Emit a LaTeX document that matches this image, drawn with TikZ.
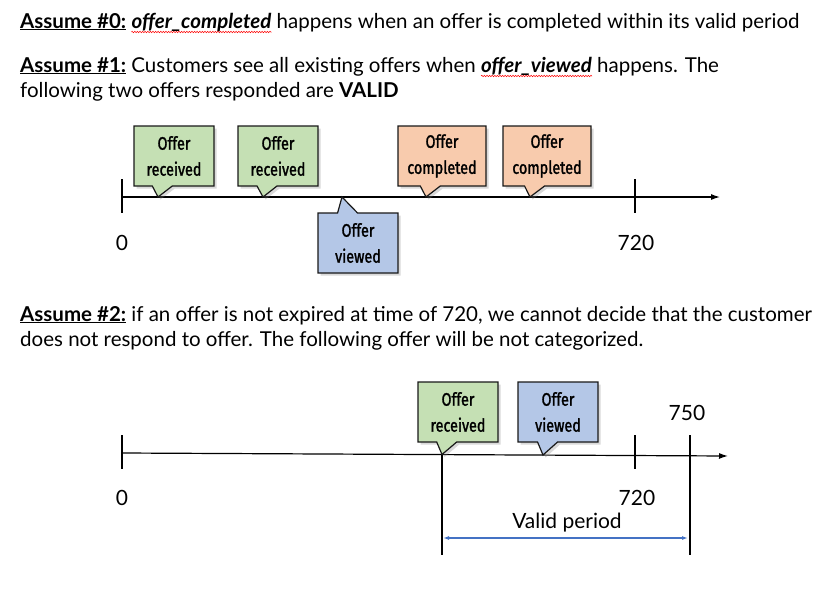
\documentclass[tikz,border=0pt]{standalone}
\usepackage{fontspec}
\setmainfont{Lato}
\newfontfamily\calloutfont[FakeStretch=0.8,FakeBold=1.5]{Fira Sans}
\usetikzlibrary{arrows.meta}
\usetikzlibrary{shapes.callouts}
\usetikzlibrary{shadows}
\usetikzlibrary{decorations.pathmorphing}

\definecolor{recvgreen}{HTML}{C5E0B4}
\definecolor{compsalmon}{HTML}{F8CBAD}
\definecolor{viewblue}{HTML}{B4C7E7}
\definecolor{spanblue}{HTML}{4472C4}

\begin{document}
\begin{tikzpicture}[x=1pt,y=-1pt,
    event/.style={rectangle callout, draw=black!90, line width=1.2pt, minimum width=80pt,
        minimum height=60pt, inner sep=2pt, align=center, callout pointer width=20pt,
        font=\calloutfont\fontsize{18}{26}\selectfont,
        drop shadow={shadow xshift=2.5pt,shadow yshift=-2.5pt,opacity=0.3}},
    headline/.style={anchor=base west, inner sep=0pt, font=\fontsize{20.5}{25}\selectfont},
    spellmark/.style={red, line width=0.5pt, decorate, decoration={snake, amplitude=0.7pt, segment length=2.6pt}},
    timeaxis/.style={line width=1.2pt,-{Latex[length=9pt,width=6pt]}},
    tickmark/.style={line width=1.5pt},
    ticklabel/.style={inner sep=0pt, font=\fontsize{21}{24}\selectfont}]
    \useasboundingbox (0,0) rectangle (838,589);

    % assumptions
    \node[headline] (hzero) at (20,28) {\underline{\textbf{Assume \#0:}}};
    \node[headline, xshift=5pt] (hzerow) at (hzero.base east) {\textbf{\textit{offer\_completed}}};
    \node[headline, xshift=5pt] (hzeroc) at (hzerow.base east) {happens when an offer is completed within its valid period};
    \node[headline] (hone) at (20,72) {\underline{\textbf{Assume \#1:}} Customers see all existing offers when};
    \node[headline, xshift=5pt] (honew) at (hone.base east) {\textbf{\textit{offer\_viewed}}};
    \node[headline, xshift=5pt] (honec) at (honew.base east) {happens. The};
    \node[headline] (honeb) at (20,97) {following two offers responded are \textbf{VALID}};
    \node[headline] (htwo) at (20,321) {\underline{\textbf{Assume \#2:}} if an offer is not expired at time of 720, we cannot decide that the customer};
    \node[headline] (htwob) at (20,346) {does not respond to offer. The following offer will be not categorized.};
    \draw[spellmark] ([yshift=-4pt]hzerow.base west) -- ([yshift=-4pt]hzerow.base east);
    \draw[spellmark] ([yshift=-4pt]honew.base west) -- ([yshift=-4pt]honew.base east);

    % first time line
    \coordinate (ostart) at (122,197);
    \coordinate (oend) at (720,197);
    \draw[timeaxis] (ostart) -- (oend);
    \draw[tickmark] (122,179) -- (122,213);
    \draw[tickmark] (635,179) -- (635,213);
    \node[ticklabel] (zeroa) at (122,243) {0};
    \node[ticklabel] (sevena) at (636,243) {720};

    \node[event, fill=recvgreen, callout absolute pointer={(158,197)}] (recva) at (174,156) {Offer\\received};
    \node[event, fill=recvgreen, callout absolute pointer={(263,197)}] (recvb) at (278,156) {Offer\\received};
    \node[event, fill=viewblue, callout absolute pointer={(342,197)}] (viewa) at (358,243) {Offer\\viewed};
    \node[event, fill=compsalmon, minimum width=88pt, callout absolute pointer={(426,197)}] (compa) at (442,156) {Offer\\completed};
    \node[event, fill=compsalmon, minimum width=88pt, callout absolute pointer={(530,197)}] (compb) at (547,156) {Offer\\completed};

    % second time line
    \coordinate (tstart) at (122,453);
    \coordinate (tend) at (728,456);
    \draw[timeaxis] (tstart) -- (tend);
    \draw[tickmark] (122,435) -- (122,469);
    \draw[tickmark] (635,435) -- (635,469);
    \node[ticklabel] (zerob) at (122,498) {0};
    \node[ticklabel] (sevenb) at (637,498) {720};
    \node[ticklabel] (sevenfifty) at (687,413) {750};

    \node[event, fill=recvgreen, callout absolute pointer={(442,454.5)}] (recvc) at (458,412) {Offer\\received};
    \node[event, fill=viewblue, callout absolute pointer={(543,455)}] (viewc) at (558,412) {Offer\\viewed};

    % valid period
    \coordinate (vstart) at (442,454.5);
    \coordinate (vstop) at (442,555);
    \coordinate (wtop) at (690,435);
    \coordinate (wstop) at (690,555);
    \draw[tickmark] (vstart) -- (vstop);
    \draw[tickmark] (wtop) -- (wstop);
    \coordinate (spana) at (442,538);
    \coordinate (spanb) at (690,538);
    \draw[spanblue, line width=1.3pt, {Latex[length=6pt,width=4pt]}-{Latex[length=6pt,width=4pt]}] ([xshift=1pt]spana) -- ([xshift=-2pt]spanb);
    \node[ticklabel] (validlbl) at (567,523) {Valid period};
\end{tikzpicture}
\end{document}
